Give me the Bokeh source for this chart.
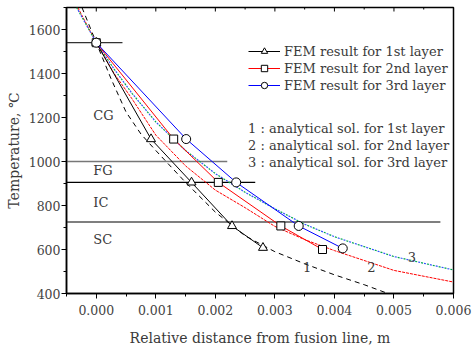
from bokeh.plotting import figure
from bokeh.models import (Range1d, Legend, LegendItem, Label,
                          SingleIntervalTicker, PrintfTickFormatter)
from bokeh.embed import file_html
from bokeh.resources import INLINE

# ---------------- data ----------------
# FEM results (markers + solid lines)
fem1_x = [0.0, 0.00092, 0.0016, 0.00228, 0.0028]
fem1_t = [1540, 1102, 905, 707, 608]
fem2_x = [0.0, 0.0013, 0.00205, 0.0031, 0.0038]
fem2_t = [1540, 1102, 905, 707, 600]
fem3_x = [0.0, 0.00151, 0.00235, 0.0034, 0.00414]
fem3_t = [1540, 1102, 905, 707, 605]

# analytical solutions
ana1_x = [-0.00024, 0.0, 0.00025, 0.0005, 0.00075, 0.001, 0.0015, 0.002, 0.0025, 0.003, 0.0035, 0.004, 0.0045, 0.0049]
ana1_t = [1700, 1540, 1375, 1225, 1125, 1050, 905, 770, 662, 590, 535, 485, 440, 400]
ana2_x = [-0.00031, 0.0, 0.0003, 0.0006, 0.001, 0.0015, 0.002, 0.0025, 0.003, 0.0035, 0.004, 0.005, 0.006]
ana2_t = [1700, 1540, 1400, 1285, 1120, 980, 870, 790, 705, 645, 595, 505, 452]
ana3_x = [-0.00033, 0.0, 0.0003, 0.0006, 0.001, 0.0015, 0.002, 0.0025, 0.003, 0.0035, 0.004, 0.005, 0.006]
ana3_t = [1700, 1540, 1420, 1310, 1180, 1050, 945, 860, 785, 715, 658, 568, 507]

# phase boundary lines
bound_t = [1540, 1000, 905, 725]
bound_x_end = [0.00044, 0.0022, 0.00267, 0.00578]
bound_color = ["#333333", "#777777", "#000000", "#555555"]

# region labels
region_names = ["CG", "FG", "IC", "SC"]
region_t = [1210, 957, 812, 644]

# curve number labels
num_text = ["1", "2", "3"]
num_x = [0.00354, 0.00462, 0.0053]
num_t = [522, 519, 567]

legend_labels = ["FEM result for 1st layer", "FEM result for 2nd layer", "FEM result for 3rd layer"]
ana_labels = ["1 : analytical sol. for 1st layer",
              "2 : analytical sol. for 2nd layer",
              "3 : analytical sol. for 3rd layer"]

x_min, x_max = -0.0005, 0.006
y_min, y_max = 400, 1700
x_major_ticks = [0.0, 0.001, 0.002, 0.003, 0.004, 0.005]
x_minor_ticks = [0.0005, 0.0015, 0.0025, 0.0035, 0.0045, 0.0055]

FONT = "DejaVu Serif"
TXT = "#3a3a3a"

p = figure(width=473, height=354,
           x_range=Range1d(x_min, x_max), y_range=Range1d(y_min, y_max),
           output_backend="svg", toolbar_location=None,
           min_border_left=66, min_border_right=20, min_border_top=7, min_border_bottom=61,
           x_axis_label="Relative distance from fusion line, m",
           y_axis_label="Temperature, \u2103")
p.grid.visible = False
p.outline_line_color = "black"
p.outline_line_width = 1.5
p.background_fill_color = "white"

p.xaxis.ticker = SingleIntervalTicker(interval=0.001, num_minor_ticks=2)
p.yaxis.ticker = SingleIntervalTicker(interval=200, num_minor_ticks=2)
p.xaxis.formatter = PrintfTickFormatter(format="%.3f")

for axes in (p.xaxis, p.yaxis):
    axes.axis_line_width = 1.5
    axes.axis_line_color = "black"
    axes.major_tick_out = 5
    axes.major_tick_in = 0
    axes.minor_tick_out = 3
    axes.minor_tick_in = 0
    axes.major_tick_line_color = "black"
    axes.minor_tick_line_color = "black"
    axes.major_label_text_font = FONT
    axes.major_label_text_font_size = "12.5px"
    axes.major_label_text_color = "#444444"
    axes.axis_label_text_font = FONT
    axes.axis_label_text_font_size = "14px"
    axes.axis_label_text_font_style = "normal"
    axes.axis_label_text_color = TXT

p.yaxis.major_label_standoff = 1
p.yaxis.axis_label_standoff = 4
p.xaxis.major_label_standoff = 6
p.xaxis.axis_label_standoff = 12

# inward ticks on the top frame edge (from the tick lists)
tick_len_major = (y_max - y_min) / 286 * 4
tick_len_minor = (y_max - y_min) / 286 * 2
p.segment(x0=x_major_ticks, y0=[y_max] * len(x_major_ticks),
          x1=x_major_ticks, y1=[y_max - tick_len_major] * len(x_major_ticks),
          line_color="black", line_width=1)
p.segment(x0=x_minor_ticks, y0=[y_max] * len(x_minor_ticks),
          x1=x_minor_ticks, y1=[y_max - tick_len_minor] * len(x_minor_ticks),
          line_color="black", line_width=1)

# phase boundaries
for t, xe, c in zip(bound_t, bound_x_end, bound_color):
    p.line([x_min, xe], [t, t], line_color=c, line_width=1.3)

# analytical curves
p.line(ana1_x, ana1_t, line_color="black", line_width=1, line_dash="5 4")
p.line(ana2_x, ana2_t, line_color="#ff0000", line_width=1, line_dash="3 1")
p.line(ana3_x, ana3_t, line_color="#00a651", line_width=1.2, line_dash="2 4")
p.line(ana3_x, ana3_t, line_color="#3355ff", line_width=1.2, line_dash="2 4", line_dash_offset=3)

# FEM curves
l1 = p.line(fem1_x, fem1_t, line_color="black", line_width=1)
s1 = p.scatter(fem1_x, fem1_t, marker="triangle", size=9, line_color="black", fill_color="white")
l2 = p.line(fem2_x, fem2_t, line_color="#ff0000", line_width=1)
s2 = p.scatter(fem2_x, fem2_t, marker="square", size=8, line_color="black", fill_color="white")
l3 = p.line(fem3_x, fem3_t, line_color="#0000ff", line_width=1)
s3 = p.scatter(fem3_x, fem3_t, marker="circle", size=9, line_color="black", fill_color="white")

legend = Legend(items=[LegendItem(label=legend_labels[0], renderers=[l1, s1]),
                       LegendItem(label=legend_labels[1], renderers=[l2, s2]),
                       LegendItem(label=legend_labels[2], renderers=[l3, s3])],
                location=(182, 200), glyph_width=32, glyph_height=16, label_height=16,
                spacing=1, label_standoff=4, padding=0, margin=0,
                border_line_color=None, background_fill_alpha=0,
                label_text_font=FONT, label_text_font_size="13px", label_text_color=TXT)
p.add_layout(legend)

ana_y = [1148, 1072, 996]
for txt, y in zip(ana_labels, ana_y):
    p.add_layout(Label(x=0.00255, y=y, text=txt, text_font=FONT, text_font_size="13px",
                       text_color=TXT, text_baseline="middle", text_align="left"))

for name, t in zip(region_names, region_t):
    p.add_layout(Label(x=-0.00005, y=t, text=name, text_font=FONT, text_font_size="13px",
                       text_color=TXT, text_baseline="middle", text_align="left"))

for s, x, t in zip(num_text, num_x, num_t):
    p.add_layout(Label(x=x, y=t, text=s, text_font=FONT, text_font_size="13px",
                       text_color=TXT, text_baseline="middle", text_align="center"))

open("out.html", "w").write(file_html(p, INLINE))
